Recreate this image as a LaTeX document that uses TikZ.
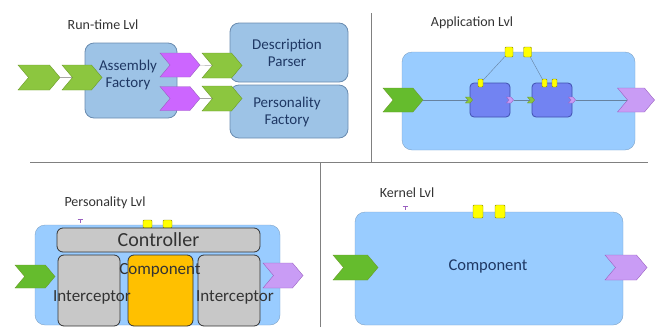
\documentclass[tikz,border=0pt]{standalone}
\usepackage{fontspec}
\setmainfont{Carlito}
\usetikzlibrary{shapes.symbols}

\definecolor{rtblue}{HTML}{9DC3E6}
\definecolor{rtline}{HTML}{6A8CB0}
\definecolor{skyblue}{HTML}{99CCFF}
\definecolor{skyline}{HTML}{7FA3C8}
\definecolor{inblue}{HTML}{7283F2}
\definecolor{inline}{HTML}{4050B0}
\definecolor{chgreen}{HTML}{8CC63F}
\definecolor{chgreenl}{HTML}{6C9A2A}
\definecolor{chpurple}{HTML}{CC66FF}
\definecolor{chlav}{HTML}{C99CF5}
\definecolor{chpurl}{HTML}{9A60C0}
\definecolor{portyel}{HTML}{FFFF00}
\definecolor{portline}{HTML}{8A8A00}
\definecolor{gbox}{HTML}{C8C8C8}
\definecolor{compor}{HTML}{FFC000}
\definecolor{navy}{HTML}{1F3864}
\definecolor{titlegray}{HTML}{333333}

\begin{document}
\begin{tikzpicture}[x=1pt,y=-1pt,
    title/.style={text=titlegray,font=\fontsize{14}{14}\selectfont},
    lbl/.style={text=navy,font=\fontsize{15}{17}\selectfont,align=center},
    plbl/.style={text=titlegray,font=\fontsize{17}{17}\selectfont},
    rtbox/.style={draw=rtline,fill=rtblue,rounded corners=9pt,thick,inner sep=0pt},
    skybox/.style={draw=skyline,fill=skyblue,rounded corners=10pt,inner sep=0pt},
    smallbox/.style={draw=inline,fill=inblue,rounded corners=4pt,thick,inner sep=0pt,minimum width=40pt,minimum height=34pt},
    graybox/.style={draw=black!80,fill=gbox,rounded corners=6pt,thick,inner sep=0pt},
    chev/.style={shape=signal,signal to=east,signal from=west,signal pointer angle=100,inner sep=0pt,minimum width=40pt,minimum height=24pt},
    gchev/.style={chev,draw=chgreenl,fill=chgreen},
    pchev/.style={chev,draw=chpurl,fill=chpurple},
    lchev/.style={chev,draw=chpurl,fill=chlav},
    tinyin/.style={chev,draw=chgreenl,fill=chgreen,minimum width=7pt,minimum height=6pt},
    tinyout/.style={chev,draw=chpurl,fill=chlav,minimum width=7pt,minimum height=6pt},
    port/.style={draw=portline,fill=portyel,rounded corners=1pt,inner sep=0pt},
    wire/.style={draw=skyline!80!black,thin},
    divider/.style={draw=gray,thick}]
  \useasboundingbox (0,0) rectangle (662,327);

  % dividers
  \coordinate (hl) at (30,162);
  \coordinate (hr) at (648,162);
  \coordinate (vt) at (371,13);
  \coordinate (vb) at (320,327);
  \draw[divider] (hl) -- (hr);
  \draw[divider] (vt) -- (vt |- hl);
  \draw[divider] (vb) -- (vb |- hl);

  % Run-time Lvl
  \node[title] (rttitle) at (103,25) {Run-time Lvl};
  \node[rtbox,minimum width=92pt,minimum height=75pt] (asmb) at (131,80.5) {};
  \node[lbl] (asmbtxt) at (128,75) {Assembly\\Factory};
  \node[rtbox,minimum width=118pt,minimum height=59pt] (desc) at (289,52.5) {};
  \node[lbl] (desctxt) at (287,53) {Description\\Parser};
  \node[rtbox,minimum width=118pt,minimum height=53pt] (pers) at (289,111.5) {};
  \node[lbl] (perstxt) at (287,112) {Personality\\Factory};
  \node[gchev,minimum width=42pt,minimum height=25pt] (g1) at (39,77.5) {};
  \node[gchev,minimum height=25pt] (g2) at (82,77.5) {};
  \node[pchev] (p1) at (180,65) {};
  \node[pchev] (p2) at (180,98.5) {};
  \node[gchev,minimum height=25pt] (g3) at (222,65.5) {};
  \node[gchev,minimum height=25pt] (g4) at (222,98.5) {};
  \draw[gray!70] (g1) -- (g2);
  \draw[gray!70] (p1) -- (g3);
  \draw[gray!70] (p2) -- (g4);

  % Application Lvl
  \node[title] (apptitle) at (472,23) {Application Lvl};
  \node[skybox,minimum width=233pt,minimum height=98pt] (app) at (518.5,101) {};
  \node[smallbox] (b1) at (490,100) {};
  \node[smallbox] (b2) at (552,100) {};
  \node[port,minimum width=8pt,minimum height=10pt] (ap1) at (509,52) {};
  \node[port,minimum width=8pt,minimum height=10pt] (ap2) at (527.5,52) {};
  \node[port,minimum width=5pt,minimum height=8pt] (b1p) at (480.5,83) {};
  \node[port,minimum width=5pt,minimum height=8pt] (b2p1) at (544.5,83) {};
  \node[port,minimum width=5pt,minimum height=8pt] (b2p2) at (554.5,83) {};
  \node[tinyin] (b1in) at (469,100) {};
  \node[tinyout] (b1out) at (510,100) {};
  \node[tinyin] (b2in) at (531,100) {};
  \node[tinyout] (b2out) at (572,100) {};
  \node[gchev,fill=chgreen!80!green!90!black,minimum height=24pt] (ain) at (403,100) {};
  \node[lchev,minimum width=37pt] (aout) at (636,100) {};
  \draw[wire] (ain) -- (b1in);
  \draw[wire] (b1out) -- (b2in);
  \draw[wire] (b2out) -- (aout);
  \draw[wire] (ap1) -- (b1p);
  \draw[wire] (ap2) -- (b2p1);

  % Personality Lvl
  \node[title] (perstitle) at (105,203) {Personality Lvl};
  \node[skybox,minimum width=245pt,minimum height=100pt] (pbox) at (157.5,275) {};
  \node[port,minimum width=9pt,minimum height=8pt] (pp1) at (147.5,224) {};
  \node[port,minimum width=9pt,minimum height=8pt] (pp2) at (167.5,224) {};
  \draw[chpurl] (77.5,219.5) -- (82.5,219.5) (80,219.5) -- (80,223);
  \node[graybox,minimum width=203pt,minimum height=24pt,font=\fontsize{20}{20}\selectfont,text=titlegray] (ctrl) at (158.5,240) {Controller};
  \node[graybox,minimum width=62pt,minimum height=71pt] (icl) at (89,290.5) {};
  \node[graybox,fill=compor,minimum width=65pt,minimum height=71pt] (comp) at (160.5,290.5) {};
  \node[graybox,minimum width=62pt,minimum height=71pt] (icr) at (229,290.5) {};
  \node[plbl] (comptxt) at (160,270) {Component};
  \node[plbl] (icltxt) at (92,297) {Interceptor};
  \node[plbl] (icrtxt) at (235,297) {Interceptor};
  \node[gchev,fill=chgreen!80!green!90!black,minimum height=23pt] (pin) at (35,276.5) {};
  \node[lchev,minimum height=25pt] (pout) at (283,275.5) {};

  % Kernel Lvl
  \node[title] (ktitle) at (407,193) {Kernel Lvl};
  \node[skybox,minimum width=268pt,minimum height=113pt] (kbox) at (489,268.5) {};
  \node[lbl,font=\fontsize{16.5}{17}\selectfont] (ktxt) at (488,266) {Component};
  \node[port,minimum width=10pt,minimum height=13pt] (kp1) at (478,211.5) {};
  \node[port,minimum width=10pt,minimum height=13pt] (kp2) at (500,211.5) {};
  \draw[chpurl] (402.5,206) -- (407.5,206) (405,206) -- (405,210);
  \node[gchev,fill=chgreen!80!green!90!black,minimum width=45pt,minimum height=25pt] (kin) at (355.5,267.5) {};
  \node[lchev,minimum width=42pt,minimum height=25pt] (kout) at (626,267.5) {};
\end{tikzpicture}
\end{document}
